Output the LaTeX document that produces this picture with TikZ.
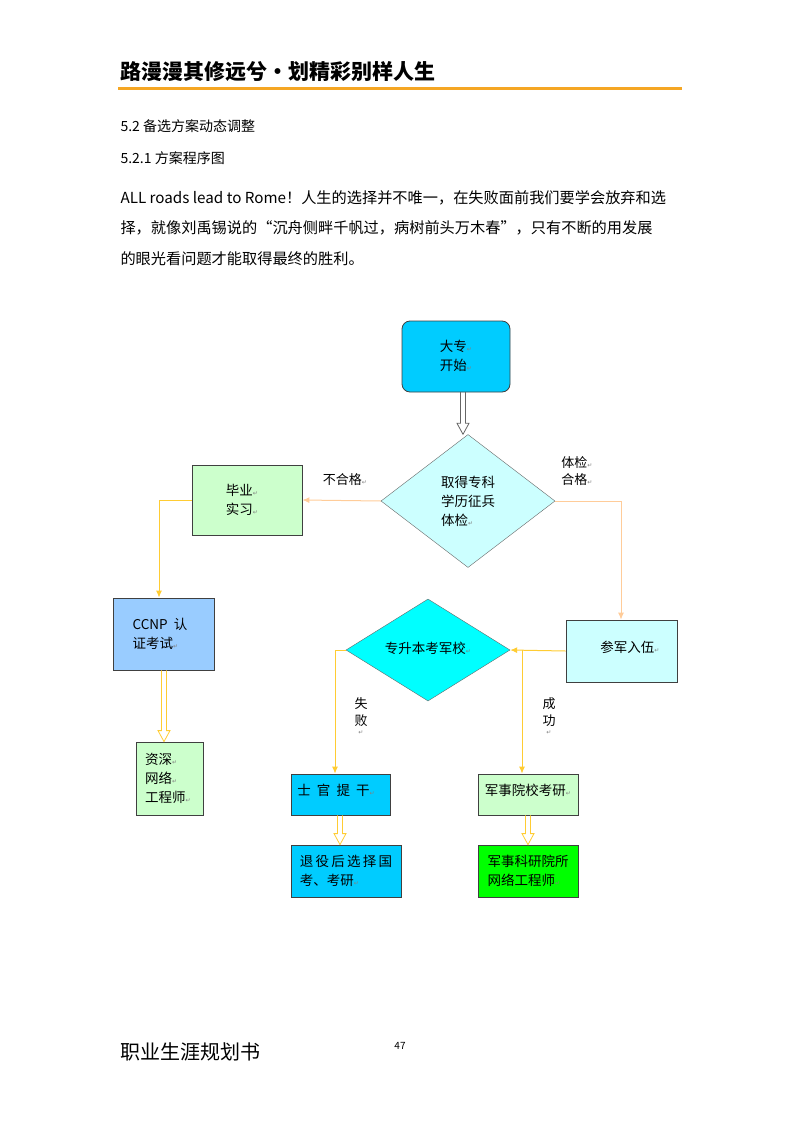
\documentclass[tikz,border=0pt]{standalone}
\usepackage{fontspec}
\setmainfont{Noto Sans CJK SC}
\newfontfamily\dv{DejaVu Sans}
\usetikzlibrary{arrows.meta,shapes.geometric,calc}
\definecolor{org}{HTML}{F5A623}
\definecolor{peach}{HTML}{FFCC99}
\definecolor{gold}{HTML}{FFCC33}
\definecolor{c1}{HTML}{00CCFF}
\definecolor{c2}{HTML}{CCFFFF}
\definecolor{g1}{HTML}{CCFFCC}
\definecolor{b1}{HTML}{99CCFF}
\definecolor{cy}{HTML}{00FFFF}
\definecolor{gr}{HTML}{00FF00}
\newcommand{\pmk}{{\dv\color{gray}\fontsize{6}{6}\selectfont ↵}}
\newcommand{\hollow}[3]{\draw[#1,line width=0.8pt,line join=miter] let \p1=(#2), \p2=(#3) in
  (\x1-2.5pt,\y1) -- (\x1-2.5pt,\y2+11pt) -- (\x1-6pt,\y2+11pt) -- (\x1,\y2) -- (\x1+6pt,\y2+11pt) -- (\x1+2.5pt,\y2+11pt) -- (\x1+2.5pt,\y1);}
\begin{document}
\begin{tikzpicture}[x=1pt,y=-1pt,
  bx/.style={draw=black!75,line width=0.8pt,inner sep=0pt},
  lbl/.style={font=\fontsize{13}{17}\selectfont,align=left},
  pa/.style={draw=peach,line width=1pt,-{Latex[length=7pt,width=6pt]}},
  ga/.style={draw=gold,line width=1pt,-{Latex[length=7pt,width=6pt]}},
  tx/.style={font=\fontsize{13.5}{19}\selectfont,align=left}]
\useasboundingbox (0,0) rectangle (800,1132);
\node[anchor=west,font=\fontsize{21}{21}\selectfont\bfseries] (hd) at (117,72) {路漫漫其修远兮·划精彩别样人生};
\draw[org,line width=3pt] (118,88) -- (682,88);
\node[anchor=west,font=\fontsize{14}{14}\selectfont] (s1) at (117,126) {5.2 备选方案动态调整};
\node[anchor=west,font=\fontsize{14}{14}\selectfont] (s2) at (117,158) {5.2.1 方案程序图};
\node[anchor=west,font=\fontsize{15.2}{14}\selectfont] (p1) at (117,198) {ALL roads lead to Rome！人生的选择并不唯一，在失败面前我们要学会放弃和选};
\node[anchor=west,font=\fontsize{15.2}{14}\selectfont] (p2) at (117,228) {择，就像刘禹锡说的“沉舟侧畔千帆过，病树前头万木春”，只有不断的用发展};
\node[anchor=west,font=\fontsize{15.2}{14}\selectfont] (p3) at (117,259) {的眼光看问题才能取得最终的胜利。};
\node[anchor=west,font=\fontsize{20}{20}\selectfont] (ft) at (117,1052) {职业生涯规划书};
\node[font=\fontsize{10}{10}\selectfont] (pg) at (400,1046) {47};

% nodes
\draw[bx,fill=c1,rounded corners=8pt] (402,321) rectangle (510,392);
\node[tx] (start) at (456,356) {大专\pmk\\开始\pmk};
\coordinate (startb) at (463,392);
\node[diamond,draw=black!60,fill=c2,minimum width=174pt,minimum height=133pt,inner sep=0pt] (d1) at (468,501) {};
\node[tx] at (468,501) {取得专科\\学历征兵\\体检\pmk};
\node[bx,fill=g1,minimum width=110pt,minimum height=70pt] (by) at (247,500) {};
\node[tx] at (242,500) {毕业\pmk\\实习\pmk};
\node[bx,fill=b1,minimum width=101pt,minimum height=72pt] (cc) at (163.5,634) {};
\node[tx] at (160,634) {CCNP\ \ 认\\证考试\pmk};
\node[bx,fill=g1,minimum width=67pt,minimum height=73pt] (zs) at (169.5,778.5) {};
\node[tx] at (168,778.5) {资深\pmk\\网络\pmk\\工程师\pmk};
\node[bx,fill=c2,minimum width=111pt,minimum height=62pt] (cj) at (621.5,651) {};
\node[tx] at (630,647) {参军入伍\pmk};
\node[diamond,draw=black!60,fill=cy,minimum width=164pt,minimum height=102pt,inner sep=0pt] (d2) at (428,650) {};
\node[tx] at (428,648) {专升本考军校\pmk};
\node[bx,fill=c1,minimum width=99pt,minimum height=41pt] (sg) at (340.5,794.5) {};
\node[tx] at (336,790) {士\ \ 官\ \ 提\ \ 干\pmk};
\node[bx,fill=c1,minimum width=110pt,minimum height=52pt] (ty) at (346,871) {};
\node[tx] at (346,871) {退\,役\,后\,选\,择\,国\\考、考研\pmk};
\node[bx,fill=g1,minimum width=100pt,minimum height=41pt] (jy) at (528,794.5) {};
\node[tx] at (528,790) {军事院校考研\pmk};
\node[bx,fill=gr,minimum width=100pt,minimum height=52pt] (ky) at (528,871) {};
\node[tx] at (528,871) {军事科研院所\\网络工程师\pmk};

% connectors
\hollow{black!60}{startb}{d1.north -| startb}
\draw[pa] (d1.west) -- (by.east);
\node[lbl] at (345,480) {不合格\pmk};
\node[lbl] at (577,471) {体检\pmk\\合格\pmk};
\draw[pa] (d1.east) -- (621,501) -- (cj.north -| 621,0);
\draw[ga] (by.west) -- (159,500) -- (cc.north -| 159,0);
\hollow{gold}{cc.south -| 164,0}{zs.north -| 164,0}
\draw[ga] (cj.west) -- (d2.east);
\draw[ga] (d2.west) -- (335,650) -- (sg.north -| 335,0);
\draw[ga] (522,650) -- (jy.north -| 522,0);
\node[lbl,align=center] at (361,716) {失\\败\\[-8pt]\pmk};
\node[lbl,align=center] at (549,716) {成\\功\\[-8pt]\pmk};
\hollow{gold}{sg.south -| 340,0}{ty.north -| 340,0}
\hollow{gold}{jy.south -| 528,0}{ky.north -| 528,0}
\end{tikzpicture}
\end{document}
